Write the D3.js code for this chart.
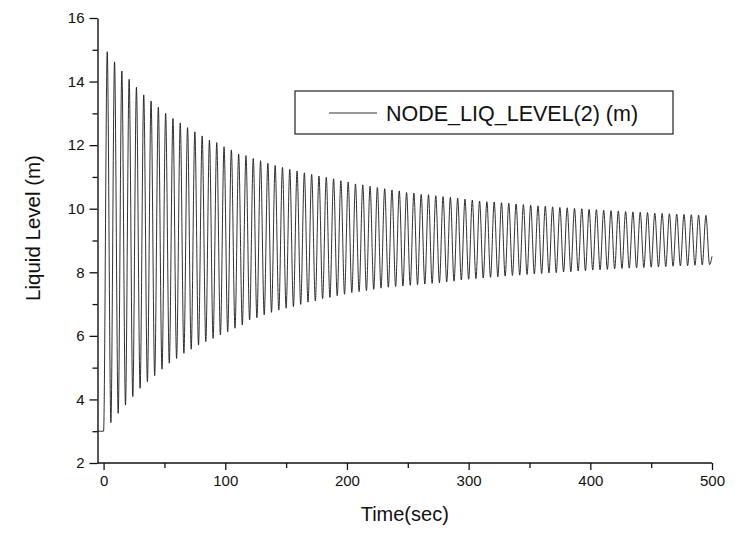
<!DOCTYPE html>
<html><head><meta charset="utf-8">
<script src="https://cdn.jsdelivr.net/npm/d3@7"></script>
<style>body{margin:0;background:#fff}svg{display:block}text{font-family:"Liberation Sans",Arial,sans-serif;fill:#111}</style>
</head><body><svg id="c" width="738" height="533"></svg>
<script>
// Initial flat segment and end point (time, level)
const startTimes = [-5, 0];
const startLevels = [3.0, 3.0];
const endTime = 500, endLevel = 8.5;

// Peak times (s) and peak levels (m)
const peakTimes = [3,9,15,21,27,33,39,45,51,57,63,69,75,81,87,93,99,105,111,117,
 123,129,135,141,147,153,159,165,171,177,183,189,195,201,207,213,219,225,231,237,243,
 249,255,261,267,273,279,285,291,297,303,309,315,321,327,333,
 339,345,351,357,363,369,375,381,387,393,399,405,411,417,423,429,435,441,447,453,459,465,471,477,483,489,495];
const peakLevels = [14.94,14.62,14.33,14.07,13.82,13.58,13.39,13.19,13.00,12.84,12.70,12.55,12.42,12.29,12.16,12.08,11.95,11.85,11.72,11.67,
 11.58,11.51,11.43,11.36,11.30,11.24,11.19,11.13,11.08,11.03,10.99,10.94,10.88,10.84,10.78,10.75,10.71,10.67,10.63,10.59,10.56,
 10.51,10.49,10.45,10.44,10.41,10.38,10.36,10.33,10.30,10.27,10.24,10.22,10.21,10.19,10.17,
 10.15,10.13,10.11,10.09,10.08,10.06,10.04,10.03,10.01,10.00,9.98,9.97,9.95,9.94,9.93,9.91,9.90,9.89,9.88,9.86,9.85,9.84,9.83,9.82,9.81,9.80,9.79];

// Trough times (s) and trough levels (m)
const troughTimes = [6,12,18,24,30,36,42,48,54,60,66,72,78,84,90,96,102,108,114,
 120,126,132,138,144,150,156,162,168,174,180,186,192,198,204,210,216,222,228,234,240,
 246,252,258,264,270,276,282,288,294,300,306,312,318,324,330,336,
 342,348,354,360,366,372,378,384,390,396,402,408,414,420,426,432,438,444,450,456,462,468,474,480,486,492,498];
const troughLevels = [3.27,3.56,3.82,4.09,4.35,4.56,4.75,4.95,5.14,5.29,5.45,5.58,5.71,5.82,5.92,6.03,6.13,6.24,6.34,
 6.50,6.57,6.66,6.74,6.81,6.87,6.92,6.99,7.06,7.10,7.17,7.21,7.26,7.31,7.36,7.39,7.42,7.46,7.50,7.53,7.55,
 7.57,7.59,7.61,7.63,7.65,7.67,7.70,7.72,7.76,7.78,7.80,7.82,7.84,7.86,7.88,7.90,
 7.91,7.93,7.95,7.96,7.98,7.99,8.01,8.02,8.04,8.05,8.07,8.08,8.09,8.11,8.12,8.13,8.14,8.15,8.16,8.17,8.18,8.19,8.20,8.21,8.22,8.23,8.24];

const xMajor = [0,100,200,300,400,500];
const xMinor = [50,150,250,350,450];
const yMajor = [2,4,6,8,10,12,14,16];
const yMinor = [3,5,7,9,11,13,15];
const seriesName = "NODE_LIQ_LEVEL(2) (m)";
const xTitle = "Time(sec)", yTitle = "Liquid Level (m)";

// build series
const pts = startTimes.map((t,i)=>({t, v:startLevels[i]}));
for (let i=0;i<peakTimes.length;i++){
  pts.push({t:peakTimes[i], v:peakLevels[i]});
  if (i<troughTimes.length) pts.push({t:troughTimes[i], v:troughLevels[i]});
}
pts.push({t:endTime, v:endLevel});

const svg = d3.select("#c");
const x = d3.scaleLinear().domain([-5,500]).range([97.5,712]);
const y = d3.scaleLinear().domain([2,16]).range([463,18]);

// data line
svg.append("path").datum(pts)
  .attr("fill","none").attr("stroke","#1a1a1a").attr("stroke-width",0.9)
  .attr("d", d3.line().x(d=>x(d.t)).y(d=>y(d.v)).curve(d3.curveMonotoneX));

// axes
const fmt = d3.format("d");
const gx = svg.append("g").attr("transform","translate(0,463)");
gx.call(d3.axisBottom(x).tickValues(xMajor).tickFormat(fmt).tickSize(7).tickSizeOuter(0).tickPadding(5));
gx.append("g").call(d3.axisBottom(x).tickValues(xMinor).tickFormat("").tickSize(5).tickSizeOuter(0)).select(".domain").remove();
const gy = svg.append("g").attr("transform","translate(97.5,0)");
gy.call(d3.axisLeft(y).tickValues(yMajor).tickFormat(fmt).tickSize(8).tickSizeOuter(0).tickPadding(5));
gy.append("g").call(d3.axisLeft(y).tickValues(yMinor).tickFormat("").tickSize(5).tickSizeOuter(0)).select(".domain").remove();
svg.selectAll(".domain").attr("stroke","#111").attr("stroke-width",1.4);
svg.selectAll(".tick line").attr("stroke","#111").attr("stroke-width",1.3);
svg.selectAll(".tick text").style("font-size","15px").style("font-family","'Liberation Sans',Arial,sans-serif").attr("fill","#111");
gx.select(".domain").attr("d", `M${x(-5)},0H${x(500)}`);

// titles
svg.append("text").attr("x",(x(-5)+x(500))/2).attr("y",521).attr("text-anchor","middle")
  .style("font-size","20px").text(xTitle);
svg.append("text").attr("transform","translate(40,228) rotate(-90)").attr("text-anchor","middle")
  .style("font-size","20.5px").text(yTitle);

// legend
const lg = svg.append("g");
lg.append("rect").attr("x",295).attr("y",91).attr("width",378).attr("height",43)
  .attr("fill","#fff").attr("stroke","#222").attr("stroke-width",1.2);
lg.append("line").attr("x1",329).attr("x2",377).attr("y1",113).attr("y2",113).attr("stroke","#333").attr("stroke-width",1);
lg.append("text").attr("x",386).attr("y",121).style("font-size","21.5px").text(seriesName);
</script></body></html>
